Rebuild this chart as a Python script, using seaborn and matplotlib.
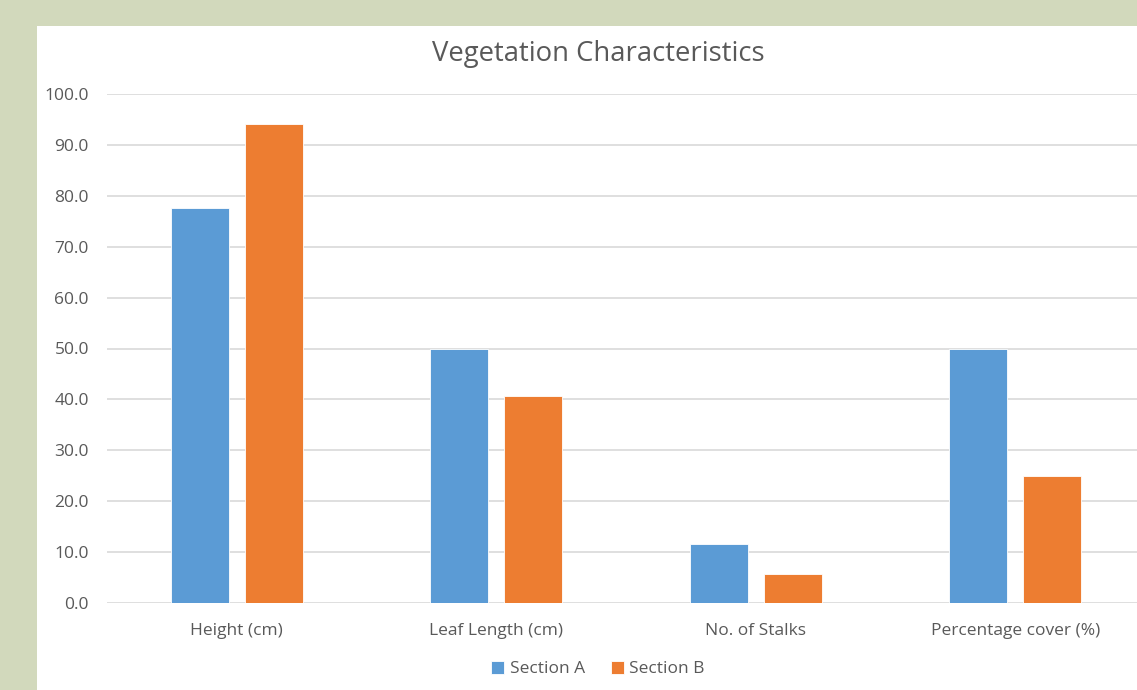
import pandas as pd
import numpy as np
import matplotlib.pyplot as plt
import seaborn as sns
from matplotlib.patches import Rectangle

sns.set_style('white')
plt.rcParams['font.family'] = ['Open Sans', 'DejaVu Sans']

categories = ['Height (cm)', 'Leaf Length (cm)', 'No. of Stalks', 'Percentage cover (%)']
section_a = [77.7, 50.0, 11.5, 50.0]
section_b = [94.2, 40.7, 5.6, 24.9]
series = ['Section A', 'Section B']

df = pd.DataFrame({
    'Category': categories * 2,
    'Value': section_a + section_b,
    'Series': [series[0]] * 4 + [series[1]] * 4,
})

grey = '#595959'
fig = plt.figure(figsize=(11.37, 6.9), dpi=100, facecolor='#d2d9bc')
# white chart panel over the green background
fig.patches.append(Rectangle((37 / 1137, 0), 1, 1 - 26 / 690, transform=fig.transFigure,
                             facecolor='white', edgecolor='none', zorder=-1))

ax = fig.add_axes([107 / 1137, 87 / 690, 1038 / 1137, 509 / 690])
ax.set_zorder(2)
ax.set_facecolor('none')
sns.barplot(data=df, x='Category', y='Value', hue='Series', order=categories,
            palette=['#5B9BD5', '#ED7D31'], saturation=1, width=0.57, gap=0.216,
            edgecolor='#ffffff', linewidth=0.6, ax=ax, zorder=3)

ax.set_xlim(-0.5, 3.5)
ax.set_ylim(0, 100)
ax.set_yticks(np.arange(0, 101, 10))
ax.set_yticklabels([f'{v:.1f}' for v in np.arange(0, 101, 10)])
ax.yaxis.grid(True, color='#d9d9d9', linewidth=1.2, zorder=0)
ax.set_axisbelow(True)
for s in ax.spines.values():
    s.set_visible(False)
ax.tick_params(axis='y', length=0, pad=13, labelsize=12.5, labelcolor=grey)
ax.tick_params(axis='x', length=0, pad=14.5, labelsize=12.5, labelcolor=grey)
ax.set_xlabel('')
ax.set_ylabel('')

fig.text(598 / 1137, 1 - 54 / 690, 'Vegetation Characteristics', ha='center', va='center',
         fontsize=19.8, color=grey)

ax.legend(loc='center', bbox_to_anchor=(598 / 1137, 1 - 669 / 690), bbox_transform=fig.transFigure,
          ncol=2, frameon=False, fontsize=12.5, labelcolor=grey, handlelength=0.75,
          handleheight=0.75, handletextpad=0.3, columnspacing=1.5)

fig.savefig('out.png', dpi=100, facecolor=fig.get_facecolor())
